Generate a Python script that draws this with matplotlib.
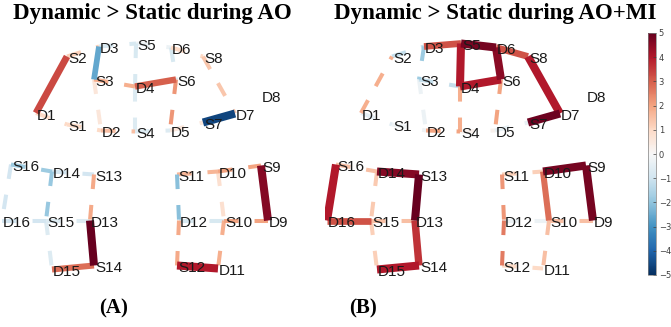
import numpy as np
import matplotlib
matplotlib.use("Agg")
import matplotlib.pyplot as plt
from matplotlib import cm, colors

plt.rcParams['lines.scale_dashes'] = False

# ============================================================
# MONTAGE (optode layout, panel pixel units) AND T-VALUES
# ============================================================
optode_names = ["D1", "S2", "D3", "S3", "S5", "D6", "S8", "D4", "S6", "D8", "D7",
                "S1", "D2", "S4", "D5", "S7",
                "S16", "D14", "S13", "D16", "S15", "D13", "D15", "S14",
                "S11", "D10", "S9", "D12", "S10", "D9", "S12", "D11"]
optode_x = [36, 67, 99, 94, 136, 171, 203, 135, 176, 261, 235,
            67, 101, 135, 170, 203,
            11, 52, 94, 2, 46, 90, 52, 94,
            177, 218, 261, 179, 224, 268, 177, 218]
optode_y = [113, 56.5, 46.5, 79.5, 43.5, 47.5, 56.5, 86.5, 79.5, 95.5, 113.5,
            124.5, 130.5, 131.5, 130.5, 122.5,
            164.5, 171.5, 174.5, 220.5, 220.5, 220.5, 269.5, 265.5,
            174.5, 171.5, 165.5, 220.5, 220.5, 220.5, 265.5, 268.5]

channels = [("D1", "S2"), ("D1", "S1"), ("S2", "D3"), ("D3", "S3"), ("D3", "S5"),
            ("S3", "D4"), ("S3", "D2"), ("S1", "D2"), ("S5", "D4"), ("S5", "D6"),
            ("D4", "S6"), ("D4", "S4"), ("D6", "S6"), ("D6", "S8"), ("S6", "D5"),
            ("S8", "D7"), ("D2", "S4"), ("S4", "D5"), ("D5", "S7"), ("S7", "D7"),
            ("S16", "D14"), ("S16", "D16"), ("D14", "S13"), ("D14", "S15"),
            ("S13", "D13"), ("D16", "S15"), ("S15", "D13"), ("S15", "D15"),
            ("D13", "S14"), ("D15", "S14"),
            ("S11", "D10"), ("D10", "S9"), ("S9", "D9"), ("S11", "D12"),
            ("D10", "S10"), ("D12", "S10"), ("S10", "D9"), ("D12", "S12"),
            ("S10", "D11"), ("S12", "D11")]

t_ao = [3.3, 1.0, 1.2, -2.6, -0.8, 1.8, 0.6, 1.0, -0.8, -0.3,
        3.0, -0.7, -0.8, 1.0, 2.2, 1.4, 1.5, -0.7, 0.6, -4.6,
        -1.8, -0.9, -0.9, -1.9, 1.9, -0.9, -0.7, -0.7, 5.0, 2.8,
        1.7, 2.0, 4.6, -2.1, 0.8, -0.8, 2.0, 1.9, 1.8, 4.0]
sig_ao = [1, 0, 0, 1, 0, 0, 0, 0, 0, 0,
          1, 0, 0, 0, 0, 0, 0, 0, 0, 1,
          0, 0, 0, 0, 0, 0, 0, 0, 1, 1,
          0, 0, 1, 0, 0, 0, 0, 0, 0, 1]

t_aomi = [1.8, -0.5, -1.2, -1.8, 3.2, -1.2, -0.3, -0.2, 4.0, 4.8,
          4.0, 1.8, 4.5, 3.2, 2.0, 4.0, 2.0, 0.2, -0.4, 4.9,
          1.5, 4.0, 4.6, 1.3, 5.0, 3.2, 1.5, 1.2, 3.6, 4.0,
          1.2, 4.8, 4.8, 2.2, 2.8, -0.3, 1.5, 2.6, 1.5, 1.0]
sig_aomi = [0, 0, 0, 0, 1, 0, 0, 0, 1, 1,
            1, 0, 1, 1, 0, 1, 0, 0, 0, 1,
            0, 1, 1, 0, 1, 1, 0, 0, 1, 1,
            0, 1, 1, 0, 1, 0, 0, 0, 0, 0]

titles = ["Dynamic > Static during AO", "Dynamic > Static during AO+MI"]
panel_tags = ["(A)", "(B)"]
cbar_ticks = [-5, -4, -3, -2, -1, 0, 1, 2, 3, 4, 5]

# ============================================================
# FIGURE
# ============================================================
W, H = 671, 327
fig = plt.figure(figsize=(W / 100, H / 100), dpi=100)
fig.patch.set_facecolor("white")

cmap = plt.get_cmap("RdBu_r")
norm = colors.Normalize(vmin=-5, vmax=5)
pos = {n: (x, y) for n, x, y in zip(optode_names, optode_x, optode_y)}

panel_w = 325
panels = [(t_ao, sig_ao, 152, 114), (t_aomi, sig_aomi, 170, 38)]

for k, (tvals, sig, title_x, tag_x) in enumerate(panels):
    ax = fig.add_axes([k * panel_w / W, 0, panel_w / W, 1])
    ax.set_xlim(0, panel_w)
    ax.set_ylim(H, 0)
    ax.axis("off")

    # dashed (n.s.) first, then solid significant on top
    order = sorted(range(len(channels)), key=lambda i: (sig[i], abs(tvals[i])))
    for i in order:
        a, b = channels[i]
        (x1, y1), (x2, y2) = pos[a], pos[b]
        c = cmap(norm(tvals[i]))
        if sig[i]:
            ax.plot([x1, x2], [y1, y2], color=c,
                    lw=min(5.8, 1.2 * abs(tvals[i]) + 1.0),
                    solid_capstyle="butt", zorder=2)
        else:
            ax.plot([x1, x2], [y1, y2], color=c, lw=2.9,
                    dashes=(10.5, 11.5), dash_capstyle="butt", zorder=1)

    for n in optode_names:
        x, y = pos[n]
        ax.text(x + 1, y + 2.8, n, ha="left", va="center", fontsize=11,
                family="Liberation Sans", color="#1a1a1a", zorder=3)

    ax.text(title_x, 14, titles[k], ha="center", va="center", fontsize=16.5,
            family="Liberation Serif", fontweight="bold")
    ax.text(tag_x, 308, panel_tags[k], ha="center", va="center", fontsize=15,
            family="Liberation Serif", fontweight="bold")

# ============================================================
# COLORBAR
# ============================================================
cax = fig.add_axes([648 / W, 1 - 275 / H, 8 / W, 242 / H])
sm = cm.ScalarMappable(norm=norm, cmap=cmap)
cbar = fig.colorbar(sm, cax=cax, ticks=cbar_ticks)
cbar.ax.tick_params(labelsize=6, colors="#404040", length=2, width=0.5,
                    direction="in", pad=2)
cbar.outline.set_linewidth(0.5)
cbar.outline.set_edgecolor("#808080")

fig.savefig("out.png", dpi=100)
